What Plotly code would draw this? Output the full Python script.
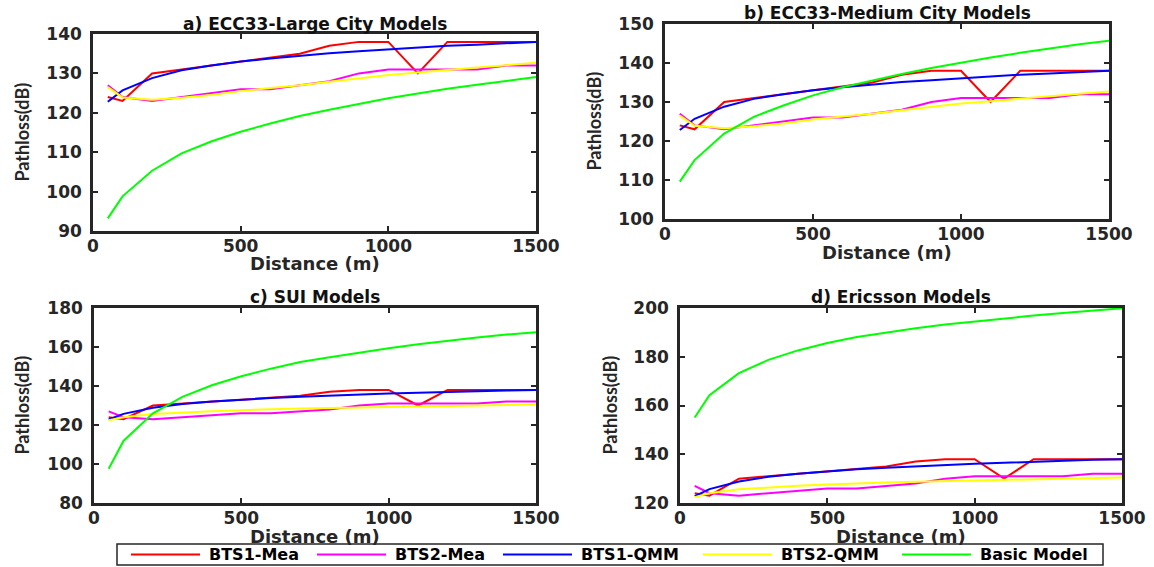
import plotly.graph_objects as go

W, H = 1154, 567

# Distance from base station (m)
distance = [50, 100, 200, 300, 400, 500, 600, 700, 800, 900, 1000, 1100, 1200, 1300, 1400, 1500]

# Measured path loss (dB)
bts1_mea = [124, 123, 130, 131, 132, 133, 134, 135, 137, 138, 138, 130, 138, 138, 138, 138]
bts2_mea = [127, 124, 123, 124, 125, 126, 126, 127, 128, 130, 131, 131, 131, 131, 132, 132]

# Quasi-moment-method predictions (dB)
bts1_qmm = [122.8, 125.7, 128.8, 130.8, 132.0, 133.0, 133.8, 134.5, 135.1, 135.6, 136.1, 136.5, 137.0, 137.3, 137.7, 138.0]
bts2_qmm_ecc = [126.5, 123.9, 123.3, 123.8, 124.5, 125.5, 126.3, 127.0, 127.9, 128.8, 129.6, 130.2, 130.9, 131.5, 132.1, 132.7]
bts2_qmm_sui = [122.4, 124.0, 125.6, 126.5, 127.1, 127.6, 128.1, 128.4, 128.7, 129.0, 129.3, 129.6, 129.8, 130.1, 130.3, 130.5]

# Basic empirical models (dB)
ecc33_large = [93.2, 98.8, 105.3, 109.7, 112.7, 115.2, 117.3, 119.2, 120.8, 122.3, 123.7, 124.9, 126.1, 127.1, 128.1, 129.1]
ecc33_medium = [109.6, 115.1, 121.9, 126.2, 129.1, 131.7, 133.8, 135.5, 137.2, 138.7, 140.1, 141.4, 142.6, 143.7, 144.8, 145.7]
sui_model = [97.6, 111.8, 126.0, 134.4, 140.4, 145.0, 148.9, 152.3, 154.8, 157.2, 159.4, 161.4, 163.2, 164.9, 166.4, 167.6]
ericsson_model = [155.1, 164.2, 173.3, 178.7, 182.6, 185.6, 188.1, 190.0, 191.7, 193.2, 194.5, 195.8, 196.9, 197.9, 198.9, 199.9]

series_names = ["BTS1-Mea", "BTS2-Mea", "BTS1-QMM", "BTS2-QMM", "Basic Model"]
series_colors = ["#ff0000", "#ff00ff", "#0000ff", "#ffff00", "#00ff00"]

panel_titles = ["a) ECC33-Large City Models", "b) ECC33-Medium City Models",
                "c) SUI Models", "d) Ericsson Models"]
panel_data = [
    [bts1_mea, bts2_mea, bts1_qmm, bts2_qmm_ecc, ecc33_large],
    [bts1_mea, bts2_mea, bts1_qmm, bts2_qmm_ecc, ecc33_medium],
    [bts1_mea, bts2_mea, bts1_qmm, bts2_qmm_sui, sui_model],
    [bts1_mea, bts2_mea, bts1_qmm, bts2_qmm_sui, ericsson_model],
]
y_ranges = [[90, 140], [100, 150], [80, 180], [120, 200]]
y_dticks = [10, 10, 20, 20]

# Panel boxes in pixels: left, right, top, bottom
boxes = [(93, 536, 34, 231), (665, 1109, 24, 219), (94, 536, 308, 503), (680, 1122, 308, 503)]
title_y = [24, 13, 297, 297]
xlabel_y = [263, 253, 536, 536]
ylabel_x = [22, 593, 21, 609]

# Shared legend strip along the bottom (pixels)
legend_box = (117, 1103, 544, 565)
legend_line_x = [131, 317, 503, 703, 902]
legend_line_len = 69
legend_text_gap = 7

INK = "#262626"
tick_font = dict(family="DejaVu Sans", size=17, color=INK, weight="bold")


def px_x(v):
    return v / W


def px_y(v):
    return 1 - v / H


fig = go.Figure()
layout = {}
annotations = []
shapes = []

for i in range(4):
    n = "" if i == 0 else str(i + 1)
    l, r, t, b = boxes[i]
    for k in range(5):
        fig.add_trace(go.Scatter(
            x=distance, y=panel_data[i][k], mode="lines",
            name=series_names[k], legendgroup=series_names[k],
            showlegend=False,
            line=dict(color=series_colors[k], width=2),
            xaxis="x" + n, yaxis="y" + n,
        ))
    common = dict(showline=True, linewidth=2.5, linecolor=INK, mirror="ticks",
                  ticks="inside", ticklen=5, tickwidth=1.5, tickcolor=INK,
                  showgrid=False, zeroline=False, tickfont=tick_font, fixedrange=True)
    layout["xaxis" + n] = dict(domain=[px_x(l), px_x(r)], range=[0, 1500],
                               tickvals=[0, 500, 1000, 1500], anchor="y" + n,
                               ticklabelstandoff=-2, **common)
    layout["yaxis" + n] = dict(domain=[px_y(b), px_y(t)], range=y_ranges[i],
                               dtick=y_dticks[i], tick0=y_ranges[i][0], anchor="x" + n,
                               ticklabelstandoff=5, **common)
    cx = px_x((l + r) / 2)
    annotations.append(dict(text=panel_titles[i], x=cx, y=px_y(title_y[i]),
                            xref="paper", yref="paper", showarrow=False,
                            xanchor="center", yanchor="middle",
                            font=dict(family="DejaVu Sans", size=17, color="#111", weight="bold")))
    annotations.append(dict(text="Distance (m)", x=cx, y=px_y(xlabel_y[i]),
                            xref="paper", yref="paper", showarrow=False,
                            xanchor="center", yanchor="middle",
                            font=dict(family="DejaVu Sans", size=18, color=INK, weight="bold")))
    annotations.append(dict(text="Pathloss(dB)", x=px_x(ylabel_x[i]), y=px_y((t + b) / 2),
                            xref="paper", yref="paper", showarrow=False, textangle=-90,
                            xanchor="center", yanchor="middle",
                            font=dict(family="Lato", size=18, color=INK, weight="bold")))

# Legend: framed strip with a coloured swatch and label per series
lx0, lx1, ly0, ly1 = legend_box
shapes.append(dict(type="rect", xref="paper", yref="paper",
                   x0=px_x(lx0), x1=px_x(lx1), y0=px_y(ly1), y1=px_y(ly0),
                   line=dict(color=INK, width=1.5), fillcolor="white", layer="above"))
ymid = px_y((ly0 + ly1) / 2)
for k in range(5):
    x0 = legend_line_x[k]
    shapes.append(dict(type="line", xref="paper", yref="paper",
                       x0=px_x(x0), x1=px_x(x0 + legend_line_len), y0=ymid, y1=ymid,
                       line=dict(color=series_colors[k], width=2), layer="above"))
    annotations.append(dict(text=series_names[k], x=px_x(x0 + legend_line_len + legend_text_gap),
                            y=ymid, xref="paper", yref="paper", showarrow=False,
                            xanchor="left", yanchor="middle",
                            font=dict(family="DejaVu Sans", size=16, color="#000", weight="bold")))

fig.update_layout(
    width=W, height=H,
    margin=dict(l=0, r=0, t=0, b=0, autoexpand=False),
    paper_bgcolor="white", plot_bgcolor="white",
    showlegend=False,
    annotations=annotations,
    shapes=shapes,
    **layout,
)

fig.write_html("out.html")
